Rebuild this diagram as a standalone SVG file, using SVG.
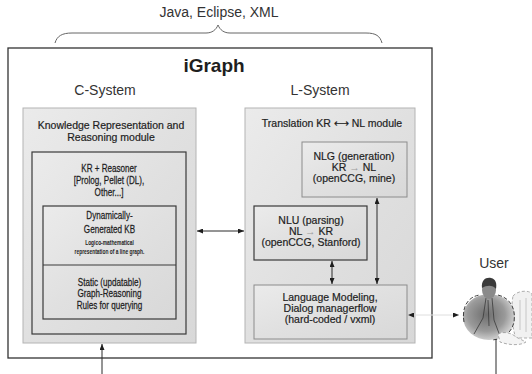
<svg xmlns="http://www.w3.org/2000/svg" width="532" height="374" viewBox="0 0 532 374">
  <defs>
    <style>
      text { font-family: "Liberation Sans", Arial, "DejaVu Sans", sans-serif; fill: #1e1e1e; }
      .title { font-size: 19px; font-weight: bold; text-anchor: middle; }
      .head { font-size: 14px; text-anchor: middle; fill: #333; }
      .lbl { font-size: 10.5px; text-anchor: middle; stroke: #1e1e1e; stroke-width: 0.2; }
      .cond { font-size: 10.8px; text-anchor: middle; stroke: #1e1e1e; stroke-width: 0.25; }
      .tiny { font-size: 6.5px; font-weight: bold; text-anchor: middle; }
      .panel { fill: url(#panelFill); stroke: #b4b4b4; stroke-width: 1; }
      .box-dark { fill: url(#panelFill); stroke: #3a3a3a; stroke-width: 1.2; }
      .box-soft { fill: url(#panelFill); stroke: #8c8c8c; stroke-width: 1; }
      .link { stroke: #2a2a2a; stroke-width: 1; fill: none; }
    </style>
    <linearGradient id="panelFill" x1="0" y1="0" x2="1" y2="1">
      <stop offset="0" stop-color="#ebebeb"/>
      <stop offset="0.5" stop-color="#e0e0e0"/>
      <stop offset="1" stop-color="#d8d8d8"/>
    </linearGradient>
    <radialGradient id="bodyShade" cx="0.45" cy="0.45" r="0.6">
      <stop offset="0" stop-color="#6e6e6e"/>
      <stop offset="0.6" stop-color="#9a9a9a"/>
      <stop offset="1" stop-color="#dcdcdc"/>
    </radialGradient>
    <marker id="head" viewBox="0 0 6 5" refX="6" refY="2.5" markerWidth="6" markerHeight="5" markerUnits="userSpaceOnUse" orient="auto-start-reverse">
      <path d="M0,0 L6,2.5 L0,5 z" fill="#1e1e1e"/>
    </marker>
  </defs>

  <!-- technology brace and label -->
  <text class="head" x="219" y="17">Java, Eclipse, XML</text>
  <path d="M55,43 C57,36 62,33 72,33 L206,33 C212,33 216,30 218,25 C220,30 224,33 230,33 L366,33 C376,33 380,36 382,43" fill="none" stroke="#666" stroke-width="1"/>

  <!-- outer system frame -->
  <g id="igraph">
    <rect x="8" y="48" width="424" height="310" fill="#fff" stroke="#333" stroke-width="1.3"/>
    <text class="title" x="214" y="72">iGraph</text>
    <text class="head" x="105" y="95">C-System</text>
    <text class="head" x="320" y="95">L-System</text>
  </g>

  <!-- C-System: knowledge representation module -->
  <g id="c-system">
    <rect class="panel" x="23" y="108" width="173" height="235"/>
    <text class="lbl" x="111" y="129">Knowledge Representation and</text>
    <text class="lbl" x="111" y="141">Reasoning module</text>
  </g>
  <g id="kr-reasoner">
    <rect class="box-dark" x="32" y="152" width="154" height="182"/>
    <g transform="translate(109 0) scale(0.75 1)">
      <text class="cond" x="0" y="172">KR + Reasoner</text>
      <text class="cond" x="0" y="184">[Prolog, Pellet (DL),</text>
      <text class="cond" x="0" y="196">Other...]</text>
    </g>
  </g>
  <g id="knowledge-base">
    <rect class="box-dark" x="43" y="206" width="133" height="113"/>
    <line x1="43" y1="265" x2="176" y2="265" stroke="#3a3a3a" stroke-width="1.2"/>
    <g transform="translate(109.5 0) scale(0.75 1)">
      <text class="cond" x="0" y="219">Dynamically-</text>
      <text class="cond" x="0" y="233">Generated KB</text>
      <text class="tiny" x="0" y="245">Logico-mathematical</text>
      <text class="tiny" x="0" y="254">representation of a line graph.</text>
      <text class="cond" x="0" y="286">Static (updatable)</text>
      <text class="cond" x="0" y="297.5">Graph-Reasoning</text>
      <text class="cond" x="0" y="309">Rules for querying</text>
    </g>
  </g>

  <!-- L-System: translation module -->
  <g id="l-system">
    <rect class="panel" x="245" y="108" width="170" height="235"/>
    <text class="lbl" x="332" y="127">Translation KR ⟷ NL module</text>
  </g>
  <g id="nlg">
    <rect class="box-soft" x="302" y="142" width="105" height="55"/>
    <text class="lbl" x="354" y="160">NLG (generation)</text>
    <text class="lbl" x="354" y="171">KR <tspan fill="#9a9a9a" stroke="none">→</tspan> NL</text>
    <text class="lbl" x="354" y="182">(openCCG, mine)</text>
  </g>
  <g id="nlu">
    <rect class="box-dark" x="254" y="206" width="113" height="54"/>
    <text class="lbl" x="311" y="224">NLU (parsing)</text>
    <text class="lbl" x="311" y="235">NL <tspan fill="#9a9a9a" stroke="none">→</tspan> KR</text>
    <text class="lbl" x="311" y="246">(openCCG, Stanford)</text>
  </g>
  <g id="language-modeling">
    <rect class="box-soft" x="254" y="285" width="153" height="54"/>
    <text class="lbl" x="330" y="301">Language Modeling,</text>
    <text class="lbl" x="330" y="312">Dialog managerflow</text>
    <text class="lbl" x="330" y="323">(hard-coded / vxml)</text>
  </g>

  <!-- user -->
  <g id="user">
    <text class="head" x="494" y="268">User</text>
    <path d="M513,296 C518,290 530,290 532,294 L532,338 L516,338 C512,330 511,305 513,296 z" fill="#f1f1f1" stroke="#9a9a9a" stroke-width="0.8" stroke-dasharray="3 2"/>
    <path d="M520,300 L520,330 M526,298 L526,332" stroke="#bdbdbd" stroke-width="0.8"/>
    <ellipse cx="489" cy="317" rx="26" ry="23" fill="url(#bodyShade)"/>
    <path d="M464,322 C461,305 470,296 480,295 M498,295 C510,298 516,308 514,322 C512,332 504,339 492,340" fill="none" stroke="#2c2c2c" stroke-width="0.9" stroke-dasharray="4 2"/>
    <path d="M486,298 L483,318 L474,334 M492,298 L494,320 L500,336 M488,300 L489,326" fill="none" stroke="#3a3a3a" stroke-width="0.8"/>
    <ellipse cx="489" cy="290" rx="7" ry="9" fill="#8a8a8a"/>
    <path d="M482,288 C481,280 486,277 491,278 C496,279 497,284 496,289 C493,285 487,285 482,288 z" fill="#3a3a3a"/>
    <path d="M498,334 C504,331 512,333 516,337 L526,342 C520,346 508,345 500,342 z" fill="#f4f4f4" stroke="#8a8a8a" stroke-width="0.7" stroke-dasharray="3 2"/>
  </g>

  <!-- connectors -->
  <g id="connectors">
    <line class="link" x1="197" y1="231" x2="244" y2="231" marker-start="url(#head)" marker-end="url(#head)"/>
    <line class="link" x1="102" y1="374" x2="102" y2="344" marker-end="url(#head)"/>
    <line class="link" x1="332" y1="261" x2="332" y2="284" marker-start="url(#head)" marker-end="url(#head)"/>
    <line class="link" x1="377" y1="198" x2="377" y2="284" marker-start="url(#head)" marker-end="url(#head)"/>
    <line x1="408" y1="315" x2="459" y2="315" stroke="#dedede" stroke-width="1" marker-start="url(#head)" marker-end="url(#head)"/>
    <line class="link" x1="496" y1="339" x2="496" y2="374"/>
  </g>
</svg>
